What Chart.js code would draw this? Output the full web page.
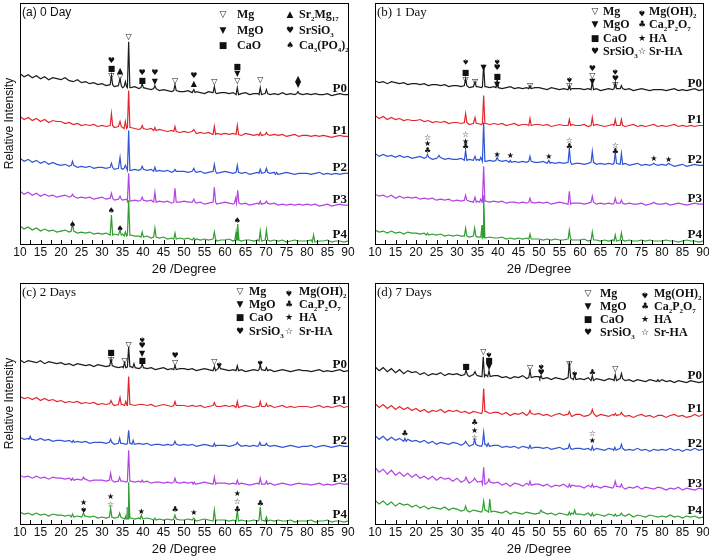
<!DOCTYPE html>
<html>
<head>
<meta charset="utf-8">
<script src="https://cdn.jsdelivr.net/npm/chart.js@4.4.0/dist/chart.umd.min.js"></script>
<style>
html, body { margin: 0; padding: 0; background: #fff; overflow: hidden; width: 709px; height: 559px; }
canvas { position: absolute; }
</style>
</head>
<body>
<canvas id="ca" width="362" height="279" style="left:0;top:0"></canvas>
<canvas id="cb" width="362" height="279" style="left:355px;top:0"></canvas>
<canvas id="cc" width="362" height="279" style="left:0;top:280px"></canvas>
<canvas id="cd" width="362" height="279" style="left:355px;top:280px"></canvas>
<script>
// baseline of each pattern, one value per degree from 10 to 90 (already stacked)
const a0 = [171,168,170,167,169,166,168,165,167,166, 165,167,164,163,165,162,163,161,162,160, 161,159,160,158,159,157,158,157,158,156, 157,156,155,156,154,155,154,153,154,153, 153,154,152,153,152,151,153,152,151,152, 152,151,152,150,151,152,150,151,151,150, 151,150,151,150,152,150,151,150,151,150, 151,150,151,150,150,151,149,150,151,150, 150];
const a1 = [128,125,127,124,126,123,125,122,124,123, 123,121,122,120,121,119,120,119,120,118, 119,118,119,117,118,117,116,117,116,115, 116,115,116,114,115,114,113,114,113,112, 113,112,113,111,112,111,112,110,111,110, 111,110,111,110,109,111,110,109,110,109, 110,109,110,109,110,108,109,110,108,109, 109,108,109,108,109,108,107,108,109,108, 108];
const a2 = [86,83,85,82,84,81,83,80,82,80, 79,80,78,79,77,78,77,78,76,77, 77,76,77,75,76,75,76,74,75,74, 75,74,75,73,74,73,74,72,73,73, 73,72,73,72,73,71,72,73,71,72, 73,72,71,72,71,72,70,71,72,71, 72,71,72,70,71,72,71,70,71,71, 71,70,71,72,70,71,70,71,70,71, 71];
const a3 = [53,50,52,49,51,48,50,48,49,47, 48,49,47,48,46,47,46,47,45,46, 47,45,46,44,45,44,45,43,44,43, 44,43,44,42,43,42,43,41,42,42, 43,42,42,41,42,40,41,42,40,41, 42,41,40,41,40,41,39,40,41,40, 41,40,41,39,40,39,40,39,40,39, 40,39,40,38,39,40,38,39,40,39, 39];
const a4 = [18,15,17,14,16,13,15,13,14,12, 13,14,12,13,11,12,11,12,10,11, 10,11,9,10,9,10,8,9,8,8, 7,8,6,7,6,7,5,6,5,6, 5,6,4,5,4,5,4,5,3,4, 4,5,3,4,3,4,4,3,4,3, 4,3,4,3,4,2,3,4,3,3, 3,4,2,3,3,4,2,3,3,2, 3];

const b0 = [164,162,163,161,163,162,161,162,160,161, 161,160,161,159,160,160,159,160,158,159, 159,158,159,157,158,158,157,158,157,158, 157,156,157,158,156,157,156,157,156,157, 157,156,155,157,156,155,156,155,156,156, 156,155,156,155,156,154,155,156,155,156, 156,155,156,154,155,156,155,154,155,155, 155,154,155,156,154,155,154,155,156,154, 155];
const b1 = [129,126,128,125,127,125,126,124,125,124, 124,125,123,124,122,123,122,123,121,122, 122,121,122,120,121,121,120,121,120,121, 120,121,119,120,121,119,120,120,119,120, 120,119,120,118,119,120,119,119,120,119, 119,120,118,119,120,119,118,119,120,119, 119,118,119,120,118,119,118,119,120,118, 119,118,119,120,118,119,118,119,118,119, 119];
const b2 = [91,88,90,88,89,87,89,87,88,86, 87,88,86,87,85,86,87,85,86,85, 85,86,84,85,84,85,84,83,84,83, 84,83,84,82,83,82,83,82,83,82, 82,83,81,82,81,82,81,82,80,81, 81,80,81,82,80,81,80,81,80,81, 80,81,79,80,81,79,80,79,80,79, 80,79,80,78,79,80,78,79,80,79, 79];
const b3 = [50,48,49,47,49,46,48,46,47,46, 47,45,46,45,46,44,45,44,45,43, 44,43,44,43,42,43,42,43,42,43, 42,43,41,42,42,41,42,41,42,41, 42,41,42,40,41,42,41,40,41,41, 41,40,41,42,40,41,40,41,40,41, 41,40,41,40,40,41,39,40,41,40, 40,41,39,40,41,40,39,40,41,40, 40];
const b4 = [14,12,13,11,13,11,12,10,12,11, 11,10,11,9,10,9,10,8,9,8, 9,8,8,7,8,7,7,6,7,6, 6,7,5,6,5,6,5,6,5,5, 5,4,5,4,5,4,4,5,4,4, 4,5,3,4,4,3,4,3,4,3, 4,3,4,3,3,4,3,4,3,3, 3,4,3,3,2,3,4,3,3,2, 3];

const c0 = [165,162,164,163,162,164,161,163,162,161, 162,160,161,159,161,160,159,160,158,160, 159,158,159,158,157,158,157,158,157,156, 157,156,157,155,156,157,155,156,155,156, 156,155,156,154,155,156,155,154,155,156, 155,154,155,154,155,153,154,155,154,155, 154,155,153,154,155,154,153,154,155,154, 154,153,154,155,153,154,153,154,155,153, 154];
const c1 = [128,126,127,125,127,124,126,124,125,123, 124,122,123,122,123,121,122,121,122,120, 121,120,121,119,120,120,119,120,119,120, 120,119,120,118,119,120,119,118,119,119, 119,118,119,118,119,117,118,119,118,118, 119,118,119,117,118,119,118,117,118,118, 118,119,117,118,119,117,118,117,118,118, 118,117,118,119,117,118,117,118,119,117, 118];
const c2 = [87,85,86,85,84,86,84,85,83,84, 84,83,84,82,83,82,83,81,82,82, 82,81,82,80,81,81,80,81,80,81, 80,81,79,80,80,79,80,79,80,79, 80,79,80,78,79,80,79,78,79,79, 79,78,79,80,78,79,78,79,78,79, 79,78,79,78,77,78,79,78,77,78, 78,79,77,78,79,78,77,78,79,78, 78];
const c3 = [49,47,48,46,48,46,47,45,47,46, 46,45,46,44,45,44,45,43,44,44, 44,43,44,42,43,43,42,43,42,43, 42,43,41,42,42,41,42,41,42,41, 42,41,42,40,41,42,41,40,41,41, 41,40,41,40,41,40,39,40,41,40, 40,41,39,40,41,40,39,40,41,40, 40,39,40,41,39,40,39,40,41,40, 40];
const c4 = [12,10,11,9,11,9,10,8,10,9, 9,8,9,7,8,7,8,7,8,6, 7,6,7,6,7,6,5,6,5,6, 5,6,5,4,5,4,5,4,5,4, 4,5,4,3,4,5,4,3,4,4, 4,3,4,3,4,3,3,4,3,4, 3,4,3,4,3,3,4,2,3,3, 3,4,2,3,3,4,2,3,3,2, 3];

const d0 = [158,154,157,153,156,152,155,151,154,152, 153,150,152,149,151,150,152,149,151,150, 151,149,150,148,150,149,148,150,148,149, 149,147,148,146,148,147,149,146,147,148, 148,146,147,145,147,146,145,147,146,145, 146,145,147,144,146,145,144,146,145,144, 146,144,145,143,145,144,143,145,144,143, 145,143,144,142,144,143,142,144,143,142, 143];
const d1 = [121,117,120,116,119,115,118,115,117,114, 116,113,115,112,114,113,115,112,114,113, 114,112,113,111,113,112,111,113,111,112, 112,110,112,109,111,110,112,109,111,110, 111,109,110,108,110,111,109,110,108,110, 110,108,109,111,108,110,109,108,110,109, 110,108,109,107,109,110,108,109,107,109, 109,107,109,110,108,109,107,108,110,108, 110];
const d2 = [89,85,88,84,87,84,86,83,85,83, 84,82,84,81,83,80,82,81,80,82, 81,79,81,78,80,79,78,80,78,79, 79,77,78,77,78,76,78,77,76,77, 77,76,77,75,76,77,75,76,75,76, 76,75,76,74,76,75,74,76,75,74, 76,74,75,74,76,74,75,73,75,74, 75,74,76,74,75,73,75,74,76,74, 75];
const d3 = [57,52,55,50,54,49,52,48,51,47, 50,46,48,45,48,44,47,45,46,43, 46,42,44,41,44,42,43,40,42,41, 42,39,41,38,41,40,38,41,39,40, 40,38,40,37,39,38,40,37,39,38, 38,36,39,37,38,36,38,37,36,38, 37,35,37,36,38,35,37,36,35,37, 36,34,36,35,37,34,36,35,34,36, 35];
const d4 = [24,20,23,19,22,18,21,19,20,17, 19,16,18,15,17,16,15,17,14,16, 15,13,14,12,14,13,12,14,12,13, 12,11,13,10,12,11,10,12,11,10, 11,12,10,11,9,11,10,9,11,10, 10,9,11,8,10,9,8,10,9,8, 9,8,10,7,9,8,7,9,8,7, 8,7,9,7,8,6,8,7,8,6, 7];

// peaks: [2theta, height above baseline]
const pa0 = [[32.3,9],[34.4,7],[35.7,5],[36.5,46],[39.8,4],[42.9,3],[47.8,6],[52.4,3],[57.4,6],[63.0,7],[68.6,7],[70.1,4],[77.8,2]];
const pa1 = [[32.3,12],[34.4,5],[35.7,7],[36.5,37],[39.8,3],[42.9,3],[47.8,5],[52.4,2],[57.4,8],[63.0,9],[68.6,3],[70.1,2]];
const pa2 = [[22.8,4],[32.3,4],[34.4,11],[35.7,3],[36.5,40],[39.8,3],[42.9,4],[47.8,2],[52.4,3],[57.4,7],[63.0,7],[68.6,4],[70.1,4],[72.6,2]];
const pa3 = [[22.8,2],[32.3,5],[34.4,3],[36.5,28],[39.8,3],[42.9,10],[47.8,14],[52.4,3],[57.4,15],[62.6,5],[63.1,13],[68.6,3],[70.1,2]];
const pa4 = [[22.8,8],[32.3,20],[34.4,5],[35.7,4],[36.5,35],[39.8,5],[42.9,9],[47.8,6],[52.4,2],[57.4,7],[62.7,8],[63.1,16],[68.6,10],[70.1,10],[81.6,7]];

const pb0 = [[32.1,7],[34.4,5],[36.5,22],[39.8,8],[47.8,3],[57.4,4],[63.0,8],[68.6,6],[70.1,3]];
const pb1 = [[32.1,9],[34.4,6],[36.5,28],[47.8,7],[57.4,6],[63.0,8],[68.6,6],[70.1,6]];
const pb2 = [[22.8,3],[25.6,2],[32.1,10],[34.4,4],[35.8,3],[36.5,39],[39.8,3],[43.0,2],[47.8,5],[52.4,3],[57.4,14],[63.0,11],[68.6,11],[70.1,11],[78.0,1],[81.6,1]];
const pb3 = [[32.1,5],[34.4,5],[35.8,3],[36.5,35],[47.8,4],[57.4,13],[63.0,6],[68.6,5],[70.1,3],[78.0,1]];
const pb4 = [[22.8,2],[32.1,8],[34.3,8],[36.1,12],[36.5,43],[47.8,5],[57.4,9],[63.0,8],[68.6,6],[70.1,7]];

const pc0 = [[32.2,7],[35.5,5],[36.5,20],[37.8,4],[39.8,4],[47.8,4],[57.4,4],[58.6,3],[63.0,5],[68.6,5],[70.1,3]];
const pc1 = [[32.2,3],[34.4,7],[35.8,4],[36.5,28],[47.8,4],[57.4,3],[63.0,6],[68.6,5],[70.1,3]];
const pc2 = [[12.5,3],[23.0,2],[32.1,3],[34.3,5],[36.5,13],[37.6,4],[47.8,3],[57.4,3],[63.0,2],[68.5,3],[70.1,2]];
const pc3 = [[22.8,2],[25.5,2],[32.1,7],[34.3,4],[36.5,31],[39.8,2],[47.8,4],[52.5,2],[57.4,7],[63.0,4],[68.6,6],[70.1,3]];
const pc4 = [[22.8,3],[25.5,3],[32.1,9],[34.3,4],[35.8,3],[36.1,12],[36.5,36],[39.6,4],[42.9,2],[47.8,4],[52.4,2],[57.4,11],[63.0,11],[68.6,13],[70.1,4]];

const pd0 = [[32.2,5],[34.4,3],[36.4,20],[37.8,6],[47.8,7],[50.5,3],[57.4,16],[58.7,5],[63.0,5],[68.6,6],[70.1,5],[79.0,2]];
const pd1 = [[36.5,23],[47.8,3],[57.4,3],[63.0,4],[68.6,2],[70.1,2]];
const pd2 = [[17.3,3],[32.1,2],[34.3,5],[36.5,12],[37.6,3],[47.8,3],[57.4,4],[63.0,4],[68.5,3],[70.1,4]];
const pd3 = [[32.2,3],[34.3,2],[36.5,17],[37.8,3],[47.8,4],[57.4,3],[63.0,3],[68.6,5],[70.1,3]];
const pd4 = [[32.1,4],[36.5,9],[38.0,13],[50.5,2],[57.4,3],[58.7,4],[63.0,3],[68.6,2],[70.1,2]];

// phase markers: [2theta, height, phase]
const marks_a = [[32.3,169,'Mg'],[32.3,176,'CaO'],[32.3,184,'SrSiO3'],[34.4,168,'Mg'],[34.4,174,'Sr2Mg17'],[36.5,208,'Mg'],
  [39.8,164,'CaO'],[39.8,172,'SrSiO3'],[42.9,163,'MgO'],[42.9,172,'SrSiO3'],[47.8,164,'Mg'],[52.4,161,'Sr2Mg17'],[52.4,169,'SrSiO3'],
  [57.4,163,'Mg'],[63.0,164,'Mg'],[63.0,171,'MgO'],[63.0,178,'CaO'],[68.6,165,'Mg'],[77.8,160,'MgO'],[77.8,166,'Sr2Mg17'],
  [22.8,19,'Ca3PO4'],[32.3,33,'Ca3PO4'],[34.4,15,'Ca3PO4'],[63.0,23,'Ca3PO4']];
const marks_b = [[32.1,165,'Mg'],[32.1,172,'CaO'],[32.1,184,'MgOH'],[34.4,163,'Mg'],[36.5,177,'MgO'],
  [39.8,160,'MgO'],[39.8,168,'CaO'],[39.8,177,'SrSiO3'],[39.8,184,'MgOH'],[47.8,159,'Mg'],[57.4,159,'Mg'],[57.4,166,'MgOH'],
  [63.0,163,'MgO'],[63.0,169,'Mg'],[63.0,176,'SrSiO3'],[68.6,160,'Mg'],[68.6,166,'SrSiO3'],[68.6,174,'MgOH'],
  [22.8,93,'CaP'],[22.8,100,'HA'],[22.8,107,'SrHA'],[32.1,97,'CaP'],[32.1,103,'HA'],[32.1,110,'SrHA'],
  [39.8,89,'HA'],[43.0,88,'HA'],[52.4,87,'HA'],[57.4,97,'CaP'],[57.4,104,'SrHA'],[68.6,92,'CaP'],[68.6,98,'SrHA'],
  [78.0,85,'HA'],[81.6,84,'HA']];
const marks_c = [[32.2,165,'Mg'],[32.2,172,'CaO'],[35.5,164,'Mg'],[36.5,180,'Mg'],
  [39.8,164,'CaO'],[39.8,171,'MgO'],[39.8,179,'SrSiO3'],[39.8,186,'MgOH'],[47.8,162,'Mg'],[47.8,169,'SrSiO3'],
  [57.4,163,'Mg'],[58.6,161,'MgOH'],[68.6,163,'MgOH'],
  [25.5,15,'MgOH'],[25.5,21,'HA'],[32.1,19,'SrHA'],[32.1,27,'HA'],[39.6,12,'HA'],[47.8,14,'CaP'],[52.4,11,'HA'],
  [63.0,14,'CaP'],[63.0,22,'SrHA'],[63.0,30,'HA'],[68.6,20,'CaP']];
const marks_d = [[32.2,158,'CaO'],[36.4,173,'Mg'],[37.8,158,'MgO'],[37.8,164,'CaO'],[37.8,171,'MgOH'],[47.8,157,'Mg'],
  [50.5,152,'SrSiO3'],[50.5,159,'MgOH'],[57.4,161,'Mg'],[58.7,152,'MgOH'],[63.0,152,'CaP'],[68.6,156,'Mg'],
  [17.3,90,'CaP'],[34.3,86,'SrHA'],[34.3,93,'HA'],[34.3,101,'CaP'],[63.0,83,'HA'],[63.0,90,'SrHA']];

const sampleNames = ['P0', 'P1', 'P2', 'P3', 'P4'];
const colors = ['#1c1c1c', '#e3262e', '#3355d4', '#b343e2', '#2f9d2f'];

const SYM = { Mg: '▽', MgO: '▼', CaO: '■', SrSiO3: '♥', Sr2Mg17: '▲', Ca3PO4: '♠', MgOH: '♠', CaP: '♣', HA: '★', SrHA: '☆' };

const legendA = { c1: [223, 237], c2: [290, 299], rows: [15, 31, 46],
  col1: [['Mg', 'Mg'], ['MgO', 'MgO'], ['CaO', 'CaO']],
  col2: [['Sr2Mg17', 'Sr_2Mg_17'], ['SrSiO3', 'SrSiO_3'], ['Ca3PO4', 'Ca_3(PO_4)_2']] };
const legendCols = {
  col1: [['Mg', 'Mg'], ['MgO', 'MgO'], ['CaO', 'CaO'], ['SrSiO3', 'SrSiO_3']],
  col2: [['MgOH', 'Mg(OH)_2'], ['CaP', 'Ca_2P_2O_7'], ['HA', 'HA'], ['SrHA', 'Sr-HA']] };

function buildTrace(base, peaks) {
  const pts = [];
  base.forEach((v, i) => {
    const x = 10 + i;
    if (!peaks.some(p => Math.abs(p[0] - x) < 0.35)) pts.push({ x: x, y: v });
  });
  peaks.forEach(([px, h]) => {
    const b = base[Math.round(px - 10)];
    pts.push({ x: px - 0.3, y: b }, { x: px, y: b + h }, { x: px + 0.3, y: b });
  });
  return pts.sort((p, q) => p.x - q.x);
}

function drawSym(ctx, key, x, y, size) {
  ctx.save();
  ctx.translate(x, y);
  if (key === 'MgOH') ctx.rotate(Math.PI);
  ctx.font = size + 'px "DejaVu Sans"';
  ctx.textAlign = 'center';
  ctx.textBaseline = 'middle';
  ctx.fillStyle = '#111';
  ctx.fillText(SYM[key], 0, 0);
  ctx.restore();
}

// text with _digits as subscripts
function drawRich(ctx, txt, x, y, size) {
  const parts = txt.split(/_(\d+)/);
  let cx = x;
  ctx.textAlign = 'left';
  ctx.textBaseline = 'middle';
  ctx.fillStyle = '#111';
  parts.forEach((p, i) => {
    if (!p) return;
    const sub = i % 2 === 1;
    ctx.font = 'bold ' + (sub ? 7 : size) + 'px "Liberation Serif"';
    ctx.fillText(p, cx, sub ? y + 4 : y);
    cx += ctx.measureText(p).width;
  });
}

const decor = {
  id: 'decor',
  afterDraw(chart) {
    const { ctx, chartArea: ca, scales: { x, y } } = chart;
    const cfg = chart.options.plugins.decor;
    ctx.save();
    ctx.strokeStyle = '#000';
    ctx.lineWidth = 1;
    ctx.strokeRect(Math.round(ca.left) + 0.5, Math.round(ca.top) + 0.5, Math.round(ca.width), Math.round(ca.height));
    ctx.beginPath();
    for (let v = 10; v <= 90; v += 2.5) {
      const px = Math.round(x.getPixelForValue(v)) + 0.5;
      ctx.moveTo(px, ca.bottom);
      ctx.lineTo(px, ca.bottom - 4);
    }
    ctx.stroke();

    cfg.marks.forEach(([d, h, k]) => drawSym(ctx, k, x.getPixelForValue(d), y.getPixelForValue(h), 8));

    ctx.font = 'bold 13px "Liberation Serif"';
    ctx.textAlign = 'right';
    ctx.textBaseline = 'middle';
    ctx.fillStyle = '#111';
    cfg.bases.forEach((b, i) => ctx.fillText(sampleNames[i], ca.right - 1, y.getPixelForValue(b[b.length - 1] + 6)));

    const lg = cfg.legend;
    lg.col1.forEach(([k, t], i) => { drawSym(ctx, k, lg.c1[0], lg.rows[i], 9); drawRich(ctx, t, lg.c1[1], lg.rows[i], 12); });
    lg.col2.forEach(([k, t], i) => { drawSym(ctx, k, lg.c2[0], lg.rows[i], 9); drawRich(ctx, t, lg.c2[1], lg.rows[i], 12); });

    ctx.font = cfg.titleFont;
    ctx.textAlign = 'left';
    ctx.textBaseline = 'middle';
    ctx.fillStyle = '#111';
    ctx.fillText(cfg.title, ca.left + 2, ca.top + 10);

    if (cfg.yTitle) {
      ctx.translate(10, (ca.top + ca.bottom) / 2);
      ctx.rotate(-Math.PI / 2);
      ctx.textAlign = 'center';
      ctx.font = '12px "Liberation Sans"';
      ctx.fillText('Relative Intensity', 0, 0);
    }
    ctx.restore();
  }
};

function makePanel(id, bases, peaks, marks, legend, title, titleFont, yTitle) {
  new Chart(document.getElementById(id), {
    type: 'scatter',
    data: {
      datasets: bases.map((b, i) => ({
        label: sampleNames[i],
        data: buildTrace(b, peaks[i]),
        showLine: true,
        borderColor: colors[i],
        borderWidth: 1.2,
        pointRadius: 0,
        tension: 0
      }))
    },
    options: {
      responsive: false,
      animation: false,
      devicePixelRatio: 1,
      layout: { padding: { left: 20, right: 14, top: 3, bottom: 0 } },
      plugins: {
        legend: { display: false },
        tooltip: { enabled: false },
        decor: { bases: bases, marks: marks, legend: legend, title: title, titleFont: titleFont, yTitle: yTitle }
      },
      scales: {
        x: {
          type: 'linear', min: 10, max: 90,
          grid: { display: false, drawTicks: false },
          border: { display: false },
          ticks: { stepSize: 5, padding: 1, color: '#111', maxRotation: 0, autoSkip: false, font: { family: 'Liberation Sans', size: 12 } },
          title: { display: true, text: '2θ /Degree', color: '#111', font: { family: 'Liberation Sans', size: 13 }, padding: { top: 1, bottom: 2 } }
        },
        y: { display: false, min: 0, max: 242 }
      }
    },
    plugins: [decor]
  });
}

const legendB = Object.assign({ c1: [240, 248], c2: [287, 294], rows: [12, 25, 39, 52] }, legendCols);
const legendC = Object.assign({ c1: [240, 249], c2: [289, 299], rows: [12, 25, 38, 52] }, legendCols);
const legendD = Object.assign({ c1: [233, 245], c2: [290, 299], rows: [14, 27, 40, 53] }, legendCols);

makePanel('ca', [a0, a1, a2, a3, a4], [pa0, pa1, pa2, pa3, pa4], marks_a, legendA, '(a) 0 Day', '12px "Liberation Sans"', true);
makePanel('cb', [b0, b1, b2, b3, b4], [pb0, pb1, pb2, pb3, pb4], marks_b, legendB, '(b) 1 Day', '13px "Liberation Serif"', false);
makePanel('cc', [c0, c1, c2, c3, c4], [pc0, pc1, pc2, pc3, pc4], marks_c, legendC, '(c) 2 Days', '13px "Liberation Serif"', true);
makePanel('cd', [d0, d1, d2, d3, d4], [pd0, pd1, pd2, pd3, pd4], marks_d, legendD, '(d) 7 Days', '13px "Liberation Serif"', false);
</script>
</body>
</html>
